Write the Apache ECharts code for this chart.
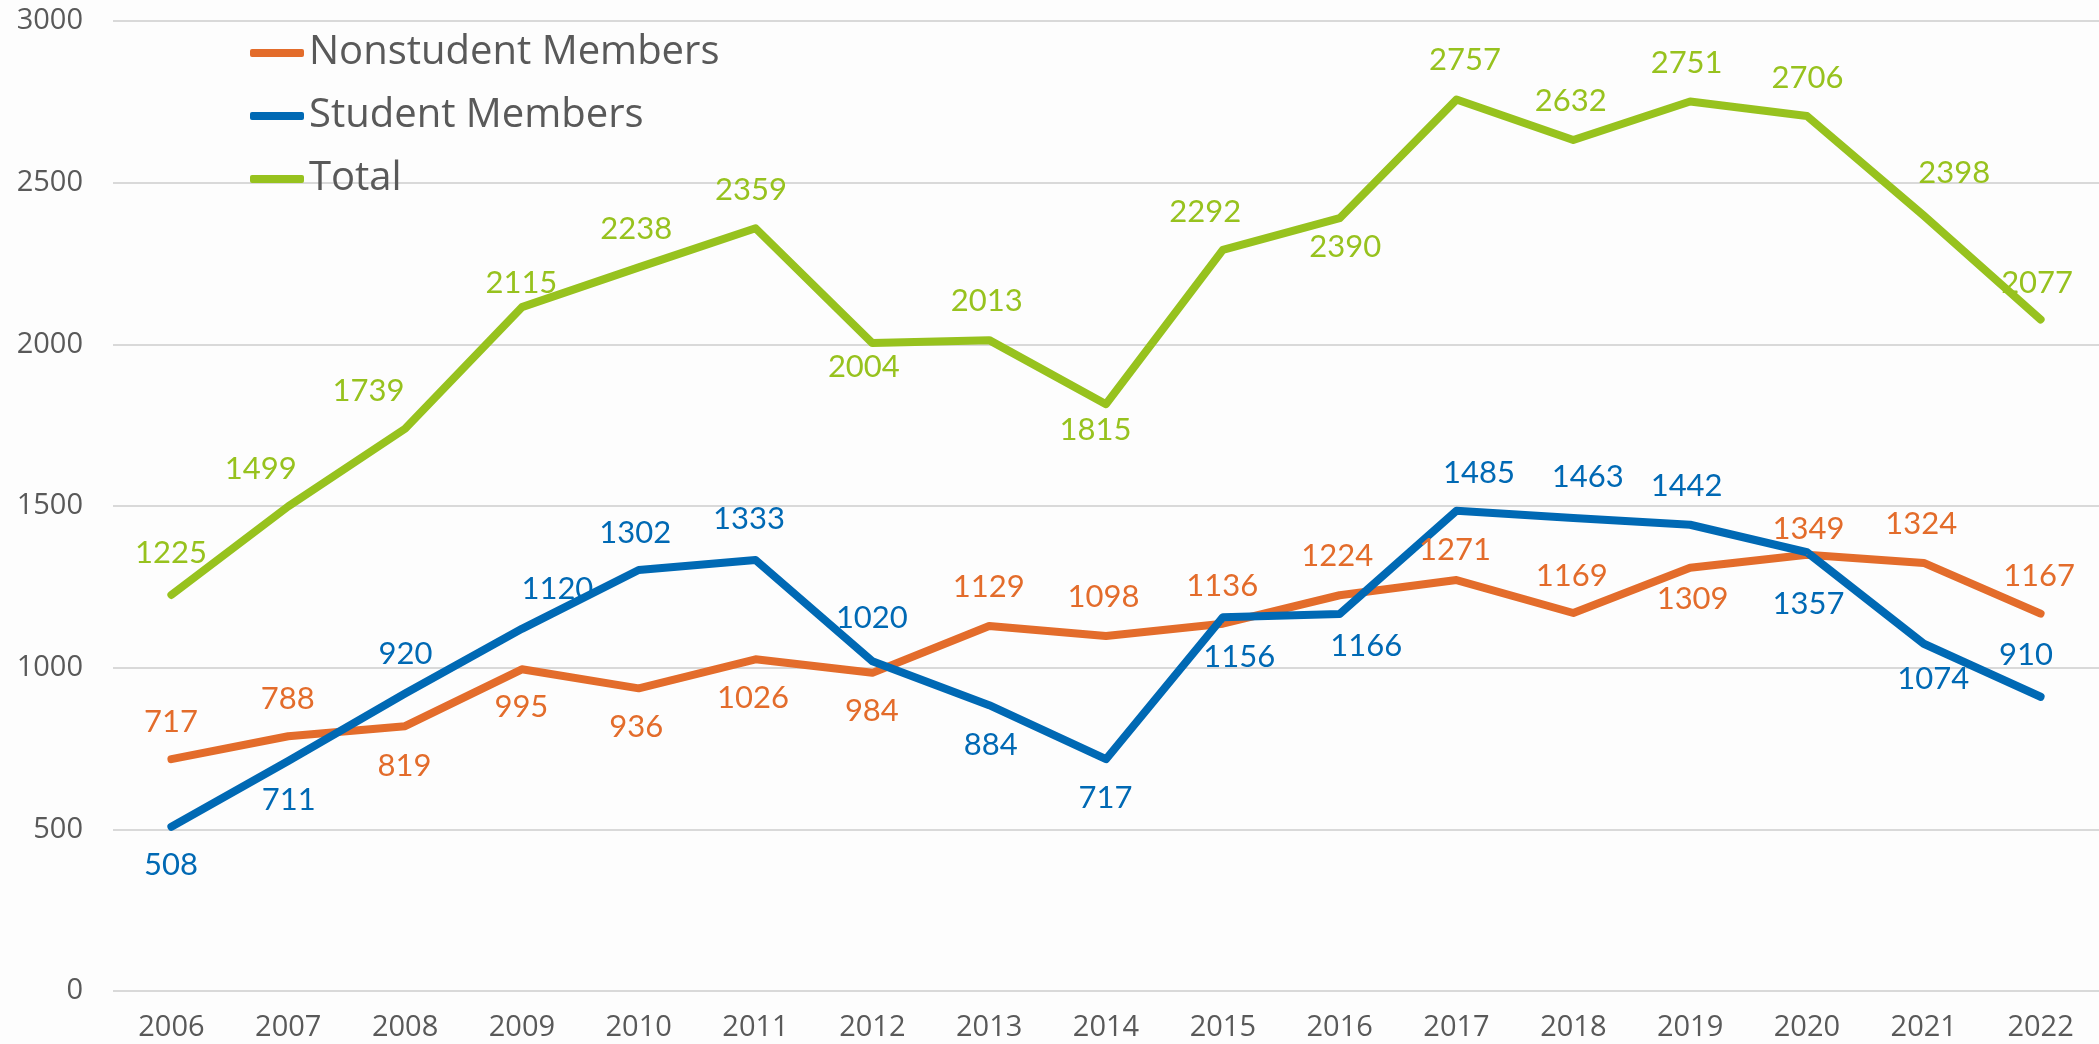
<!DOCTYPE html>
<html>
<head>
    <meta charset="UTF-8">
    <title>Members 2006-2022</title>
    <script src="https://cdn.jsdelivr.net/npm/echarts@6/dist/echarts.min.js"></script>
    <style>
        body { margin: 0; padding: 0; background: #fdfdfd; }
        #chart { width: 2099px; height: 1044px; }
    </style>
</head>
<body>
<div id="chart"></div>
<script>
// 数据
const years = ['2006','2007','2008','2009','2010','2011','2012','2013','2014','2015','2016','2017','2018','2019','2020','2021','2022'];
const nonstudent = [717, 788, 819, 995, 936, 1026, 984, 1129, 1098, 1136, 1224, 1271, 1169, 1309, 1349, 1324, 1167];
const student = [508, 711, 920, 1120, 1302, 1333, 1020, 884, 717, 1156, 1166, 1485, 1463, 1442, 1357, 1074, 910];
const total = [1225, 1499, 1739, 2115, 2238, 2359, 2004, 2013, 1815, 2292, 2390, 2757, 2632, 2751, 2706, 2398, 2077];

// 标签偏移 (label placement only)
const nonstudentLabelOffset = [[0,-37],[0,-37],[0,40],[0,38],[-2,39],[-2,39],[0,39],[0,-38],[-2,-38],[0,-37],[-2,-39],[-1,-30],[-1,-37],[3,32],[2,-25],[-2,-38],[-1,-37]];
const studentLabelOffset = [[0,39],[1,39],[1,-39],[36,-39],[-3,-37],[-6,-40],[0,-43],[2,40],[0,39],[17,40],[27,33],[23,-37],[15,-40],[-3,-38],[2,52],[10,36],[-14,-41]];
const totalLabelOffset = [[0,-41],[-27,-37],[-36,-37],[0,-24],[-2,-38],[-4,-38],[-8,24],[-2,-39],[-10,26],[-17,-37],[6,29],[9,-39],[-2,-38],[-3,-38],[1,-38],[31,-42],[-3,-36]];

const colors = { nonstudent: '#E36C2B', student: '#0069B4', total: '#97C21E' };

function makeSeries(name, values, offsets, color) {
    return {
        name: name,
        type: 'line',
        symbol: 'circle',
        symbolSize: 1,
        itemStyle: { color: color },
        lineStyle: { color: color, width: 8, cap: 'round', join: 'round' },
        emphasis: { disabled: true },
        labelLayout: { hideOverlap: false },
        data: values.map((v, i) => ({
            value: v,
            label: {
                show: true,
                position: offsets[i],
                align: 'center',
                verticalAlign: 'middle',
                color: color,
                opacity: 1,
                fontFamily: 'Lato',
                fontSize: 31
            }
        }))
    };
}

const chart = echarts.init(document.getElementById('chart'));
chart.setOption({
    backgroundColor: '#fdfdfd',
    animation: false,
    grid: { left: 113, right: 0, top: 21, bottom: 53 },
    legend: {
        orient: 'vertical',
        left: 245,
        top: 28,
        itemWidth: 54,
        itemHeight: 8,
        itemGap: 23,
        icon: 'roundRect',
        textStyle: { fontFamily: 'Open Sans', fontSize: 40, color: '#595959', lineHeight: 40 },
        data: [
            { name: 'Nonstudent Members', itemStyle: { color: colors.nonstudent } },
            { name: 'Student Members', itemStyle: { color: colors.student } },
            { name: 'Total', itemStyle: { color: colors.total } }
        ]
    },
    xAxis: {
        type: 'category',
        data: years,
        boundaryGap: true,
        axisLine: { show: false },
        axisTick: { show: false },
        axisLabel: { margin: 22, fontFamily: 'Open Sans', fontSize: 29, color: '#595959' }
    },
    yAxis: {
        type: 'value',
        min: 0,
        max: 3000,
        interval: 500,
        axisLine: { show: false },
        axisTick: { show: false },
        splitLine: { lineStyle: { color: '#D9D9D9', width: 2 } },
        axisLabel: {
            margin: 30, fontFamily: 'Open Sans', fontSize: 29, color: '#595959',
            formatter: v => String(v)
        }
    },
    series: [
        makeSeries('Nonstudent Members', nonstudent, nonstudentLabelOffset, colors.nonstudent),
        makeSeries('Student Members', student, studentLabelOffset, colors.student),
        makeSeries('Total', total, totalLabelOffset, colors.total)
    ]
});

window.addEventListener('resize', function() { chart.resize(); });
</script>
</body>
</html>
